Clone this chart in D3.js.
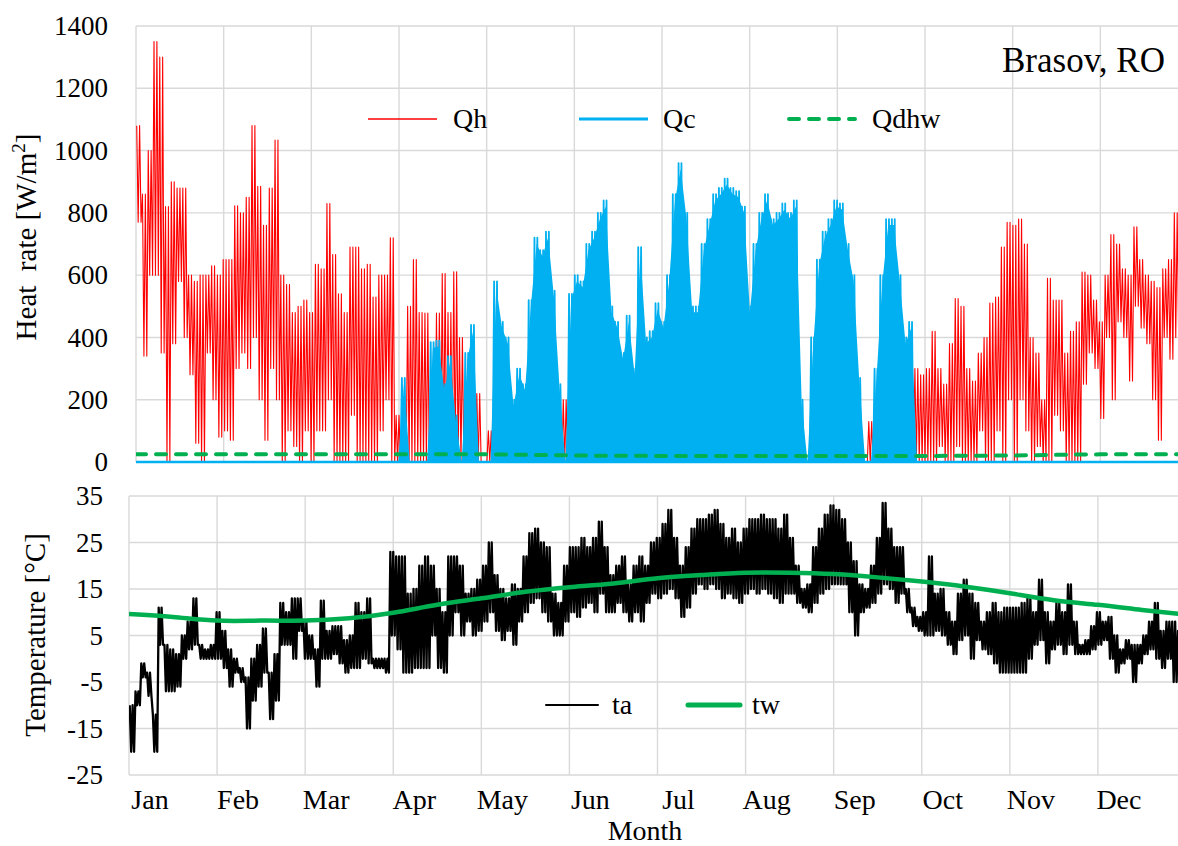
<!DOCTYPE html>
<html>
<head>
<meta charset="utf-8">
<script src="https://cdn.jsdelivr.net/npm/d3@7"></script>
<style>
  body { margin: 0; background: #fff; }
  svg { display: block; }
</style>
</head>
<body>
<svg id="chart" width="1178" height="846"></svg>
<script>
// ---- data: two-day blocks over the year (183 blocks) ----
const months = ["Jan", "Feb", "Mar", "Apr", "May", "Jun", "Jul", "Aug", "Sep", "Oct", "Nov", "Dec"];
const heatTicks = [0, 200, 400, 600, 800, 1000, 1200, 1400];
const tempTicks = [-25, -15, -5, 5, 15, 25, 35];

// heating rate Qh [W/m2]: block maximum and minimum
const qhHigh = [
  1080, 860, 1000, 1350, 1300, 820, 900, 880, 880, 600,
  580, 600, 600, 630, 600, 650, 650, 823, 800, 850,
  1080, 885, 760, 880, 1034, 600, 570, 480, 500, 520,
  480, 635, 620, 830, 666, 540, 480, 690, 690, 620,
  635, 530, 600, 600, 720, 150, 80, 500, 650, 480,
  478, 300, 478, 605, 480, 611, 400, 0, 0, 220,
  0, 100, 0, 0, 0, 0, 0, 0, 0, 0,
  0, 0, 0, 0, 200, 0, 0, 0, 0, 0,
  0, 0, 0, 0, 0, 0, 0, 0, 0, 0,
  0, 0, 0, 0, 0, 0, 0, 0, 0, 0,
  0, 0, 0, 0, 0, 0, 0, 0, 0, 0,
  0, 0, 0, 0, 0, 0, 0, 0, 0, 0,
  0, 0, 0, 0, 0, 0, 0, 130, 0, 0,
  0, 0, 0, 0, 0, 300, 280, 300, 420, 300,
  250, 380, 525, 500, 300, 260, 350, 400, 510, 530,
  690, 770, 760, 780, 700, 400, 350, 200, 590, 520,
  520, 350, 420, 450, 610, 600, 520, 450, 600, 730,
  700, 620, 600, 755, 650, 600, 580, 560, 620, 650,
  800, 700, 700
];
const qhLow = [
  770, 340, 600, 600, 350, 0, 380, 580, 400, 280,
  60, 0, 350, 200, 80, 100, 70, 300, 350, 300,
  400, 200, 70, 300, 200, 0, 100, 50, 0, 100,
  0, 100, 100, 200, 0, 0, 0, 150, 0, 0,
  0, 0, 100, 200, 0, 0, 0, 0, 0, 0,
  0, 0, 0, 0, 0, 0, 0, 0, 0, 0,
  0, 0, 0, 0, 0, 0, 0, 0, 0, 0,
  0, 0, 0, 0, 0, 0, 0, 0, 0, 0,
  0, 0, 0, 0, 0, 0, 0, 0, 0, 0,
  0, 0, 0, 0, 0, 0, 0, 0, 0, 0,
  0, 0, 0, 0, 0, 0, 0, 0, 0, 0,
  0, 0, 0, 0, 0, 0, 0, 0, 0, 0,
  0, 0, 0, 0, 0, 0, 0, 0, 0, 0,
  0, 0, 0, 0, 0, 0, 0, 0, 0, 50,
  0, 0, 50, 0, 0, 0, 100, 0, 0, 100,
  0, 200, 0, 200, 100, 0, 50, 0, 0, 150,
  100, 0, 0, 0, 250, 350, 300, 140, 400, 200,
  450, 400, 260, 500, 430, 380, 200, 70, 400, 330,
  400, 400, 400
];

// cooling rate Qc [W/m2]: block maximum (night-time values are zero)
const qcPeak = [
  0, 0, 0, 0, 0, 0, 0, 0, 0, 0,
  0, 0, 0, 0, 0, 0, 0, 0, 0, 0,
  0, 0, 0, 0, 0, 0, 0, 0, 0, 0,
  0, 0, 0, 0, 0, 0, 0, 0, 0, 0,
  0, 0, 0, 0, 0, 0, 270, 0, 0, 0,
  0, 385, 390, 250, 340, 150, 0, 350, 440, 0,
  0, 0, 580, 450, 400, 200, 300, 250, 520, 720,
  680, 740, 550, 250, 0, 540, 600, 580, 700, 740,
  800, 840, 500, 450, 350, 470, 300, 690, 400, 420,
  510, 450, 600, 860, 960, 800, 500, 500, 700, 780,
  860, 880, 910, 880, 870, 820, 500, 700, 800, 860,
  780, 800, 830, 800, 840, 200, 0, 400, 650, 740,
  780, 840, 830, 700, 600, 270, 0, 0, 300, 600,
  780, 780, 600, 400, 450, 0, 0, 0, 0, 0,
  0, 0, 0, 0, 0, 0, 0, 0, 0, 0,
  0, 0, 0, 0, 0, 0, 0, 0, 0, 0,
  0, 0, 0, 0, 0, 0, 0, 0, 0, 0,
  0, 0, 0, 0, 0, 0, 0, 0, 0, 0,
  0, 0, 0
];

// domestic hot water Qdhw [W/m2] at month boundaries
const qdhwMonthly = [25, 25, 25, 25, 24.5, 21, 19.5, 19, 19, 19.5, 21, 24.5, 25];

// ambient air temperature ta [°C]: block maximum and minimum
const taHigh = [
  -10, -7, -1, -3, -12, 11, 3, 2, 1, 5,
  8, 13, 3, 2, 3, 10, 6, 2, 0, -2,
  -4, 0, 3, 6.5, -3, 1, 12, 10, 13, 13,
  8, 5, 2, 12.5, 6, 7, 7, 4, 5, 12,
  10, 13, 0, 0, 0, 23, 22, 22, 14, 15,
  20, 22, 20, 15, 10, 22, 22, 20, 14, 15,
  17, 20, 25, 18, 15, 13, 16, 15, 22, 27,
  28, 25, 24, 14, 12, 20, 24, 24, 26, 24,
  26, 29.5, 24, 18, 20, 22, 16, 20, 22, 20,
  25, 26, 29, 32, 26, 20, 24, 28, 30, 30,
  31, 32, 29, 26, 28, 25, 28, 30, 30, 31,
  30, 30, 28, 31, 26, 20, 15, 16, 24, 28,
  31, 33, 32, 30, 25, 21, 16, 15, 20, 26,
  33.5, 28, 24, 24, 15, 11, 9, 10, 22, 14,
  15, 10, 8, 14, 17, 14, 12, 8, 10, 12,
  10, 11, 11, 11, 12, 13, 10, 17, 10, 8,
  12, 10, 16, 8, 3, 4, 7, 10, 8, 9,
  5, 2, 4, 3, 3, 5, 8, 12, 6, 8,
  8, 6, 4
];
const taLow = [
  -20, -10, -4, -8, -20, 3, -7, -7, -6, 0,
  2, 3, 0, 0, 0, 0, -2, -6, -3, -5,
  -15, -9, -6, -3, -13, -9, 3, 3, 0, 6,
  0, 0, -6, 0, 0, 1, -1, -3, -2, -2,
  0, -1, -2, -2, -3, 5, 2, -3, -3, -2,
  -2, -2, 5, -2, -3, 5, 10, 5, 8, 5,
  6, 8, 10, 6, 4, 6, 3, 8, 10, 12,
  13, 10, 8, 5, 5, 8, 10, 9, 11, 12,
  10, 14, 10, 10, 12, 10, 8, 10, 8, 12,
  14, 13, 14, 15, 13, 9, 11, 14, 16, 15,
  16, 15, 13, 14, 13, 12, 14, 15, 14, 15,
  14, 13, 12, 14, 14, 12, 11, 10, 12, 14,
  15, 16, 16, 16, 10, 5, 10, 11, 12, 14,
  16, 15, 12, 14, 10, 7, 6, 5, 5, 6,
  5, 3, 1, 4, 5, 0, 4, 2, 1, -1,
  -3, -3, -3, -3, -3, 0, 3, 4, -1, 2,
  3, 1, 3, 1, 1, 1, 2, 3, 4, 0,
  -3, -1, 0, -5, -1, 1, 2, 0, -2, 0,
  -5, -2, 0
];

// mains water temperature tw [°C], twice a month
const twHalfMonth = [9.6, 9.0, 8.2, 8.2, 8.2, 8.7, 9.9, 11.6, 13.0, 14.4, 15.4, 16.2, 17.3,
                     18.0, 18.5, 18.5, 18.2, 17.5, 16.6, 15.5, 14.1, 12.6, 11.6, 10.5, 9.5];

// ---- layout ----
const DAYS = 365, BLOCK = 2;
const FONT = '"Liberation Serif", "Tinos", "Times New Roman", serif';
const svg = d3.select("#chart");
const W = 1178, H = 846;
svg.append("rect").attr("width", W).attr("height", H).attr("fill", "#fff");

const xTop = d3.scaleLinear().domain([0, DAYS]).range([136, 1188]);
const yTop = d3.scaleLinear().domain([0, 1400]).range([462, 26]);
const xBot = d3.scaleLinear().domain([0, DAYS]).range([129, 1186]);
const yBot = d3.scaleLinear().domain([-25, 35]).range([775, 496]);
const monthStarts = d3.range(13).map(i => i * DAYS / 12);

const GRID = "#d9d9d9";

// text helper
function label(parent, x, y, size, str, anchor) {
  return parent.append("text").attr("x", x).attr("y", y)
    .attr("font-size", size).attr("text-anchor", anchor || "start")
    .style("font-family", FONT).attr("fill", "#000").text(str);
}

function drawGrid(x, y, yTicks) {
  const g = svg.append("g");
  g.selectAll("line.h").data(yTicks).join("line")
    .attr("x1", x.range()[0]).attr("x2", x.range()[1])
    .attr("y1", d => y(d)).attr("y2", d => y(d))
    .attr("stroke", GRID).attr("stroke-width", 1.4);
  g.selectAll("line.v").data(monthStarts).join("line")
    .attr("x1", d => x(d)).attr("x2", d => x(d))
    .attr("y1", y.range()[0]).attr("y2", y.range()[1])
    .attr("stroke", GRID).attr("stroke-width", 1.4);
}
drawGrid(xTop, yTop, heatTicks);
drawGrid(xBot, yBot, tempTicks);

// y axes (labels only, plain hyphen minus)
function yLabels(scale, ticks, xRight) {
  const axis = d3.axisLeft(scale).tickValues(ticks).tickSize(0).tickPadding(0)
    .tickFormat(d => String(d));
  svg.append("g").attr("transform", `translate(${xRight},0)`).call(axis)
    .call(g => g.select(".domain").remove())
    .selectAll("text").attr("font-size", 27).style("font-family", FONT).attr("fill", "#000");
}
yLabels(yTop, heatTicks, 108);
yLabels(yBot, tempTicks, 103);

// clip regions
const defs = svg.append("defs");
defs.append("clipPath").attr("id", "clipTop").append("rect")
  .attr("x", xTop.range()[0]).attr("y", 0).attr("width", xTop.range()[1] - xTop.range()[0]).attr("height", 470);
defs.append("clipPath").attr("id", "clipBot").append("rect")
  .attr("x", xBot.range()[0]).attr("y", 480).attr("width", xBot.range()[1] - xBot.range()[0]).attr("height", 300);

// helper: daily swings between each block's maximum and minimum
const dailySwing = (hi, lo) => hi.flatMap((h, k) => [
  [k * BLOCK + 0.25, h], [k * BLOCK + 0.75, lo[k]],
  [k * BLOCK + 1.25, h], [k * BLOCK + 1.75, lo[k]]
]);

const gTop = svg.append("g").attr("clip-path", "url(#clipTop)");

// Qh
gTop.append("path")
  .datum(dailySwing(qhHigh, qhLow))
  .attr("fill", "none").attr("stroke", "#ff0000").attr("stroke-width", 1.1)
  .attr("stroke-linejoin", "round")
  .attr("d", d3.line().x(d => xTop(d[0])).y(d => yTop(d[1])));

// Qc: the dense hourly trace reads as a filled profile with spiky daily peaks
const y0Top = yTop(0);
gTop.append("path")
  .datum(qcPeak.map((v, k) => [k * BLOCK + 1, v]))
  .attr("fill", "#00b0f0").attr("stroke", "none")
  .attr("d", d3.area().x(d => xTop(d[0])).y0(y0Top).y1(d => Math.min(yTop(d[1]) + 6, y0Top)));
gTop.append("path")
  .datum(dailySwing(qcPeak, qcPeak.map(() => 0)))
  .attr("fill", "none").attr("stroke", "#00b0f0").attr("stroke-width", 1.8)
  .attr("stroke-linejoin", "round")
  .attr("d", d3.line().x(d => xTop(d[0])).y(d => yTop(d[1])));
// zero level of the cooling series
gTop.append("path")
  .datum([[0, 0], [DAYS, 0]])
  .attr("stroke", "#00b0f0").attr("stroke-width", 2.5)
  .attr("d", d3.line().x(d => xTop(d[0])).y(d => yTop(d[1])));

// Qdhw
gTop.append("path")
  .datum(qdhwMonthly.map((v, i) => [monthStarts[i], v]))
  .attr("fill", "none").attr("stroke", "#00b050").attr("stroke-width", 4)
  .attr("stroke-dasharray", "10,10").attr("stroke-linecap", "round")
  .attr("d", d3.line().curve(d3.curveMonotoneX).x(d => xTop(d[0])).y(d => yTop(d[1])));

const gBot = svg.append("g").attr("clip-path", "url(#clipBot)");
// ta
gBot.append("path")
  .datum(dailySwing(taHigh, taLow))
  .attr("fill", "none").attr("stroke", "#000").attr("stroke-width", 2.3)
  .attr("stroke-linejoin", "round")
  .attr("d", d3.line().x(d => xBot(d[0])).y(d => yBot(d[1])));
// tw
gBot.append("path")
  .datum(twHalfMonth.map((v, i) => [i * DAYS / 24, v]))
  .attr("fill", "none").attr("stroke", "#00b050").attr("stroke-width", 4.5)
  .attr("d", d3.line().curve(d3.curveNatural).x(d => xBot(d[0])).y(d => yBot(d[1])));

// month labels
const gm = svg.append("g");
months.forEach((m, i) => label(gm, xBot(monthStarts[i]) + 21, 809, 28, m, "middle"));
label(svg, 645, 840, 28, "Month", "middle");

// axis titles
const t1 = svg.append("text").attr("transform", "translate(36,237) rotate(-90)")
  .attr("text-anchor", "middle").attr("font-size", 29)
  .style("font-family", FONT).style("white-space", "pre").attr("fill", "#000");
t1.append("tspan").text("Heat  rate [W/m");
t1.append("tspan").attr("dy", -11).attr("font-size", 19).text("2");
t1.append("tspan").attr("dy", 11).text("]");

svg.append("text").attr("transform", "translate(45,635) rotate(-90)")
  .attr("text-anchor", "middle").attr("font-size", 29)
  .style("font-family", FONT).attr("fill", "#000").text("Temperature [°C]");

// location label
label(svg, 1165, 72, 35, "Brasov, RO", "end");

// legends
const legTop = [
  { name: "Qh", color: "#ff0000", width: 1.5, dash: null, x1: 368, x2: 437, tx: 453 },
  { name: "Qc", color: "#00b0f0", width: 3, dash: null, x1: 579, x2: 648, tx: 663 },
  { name: "Qdhw", color: "#00b050", width: 4, dash: "10,10", x1: 789, x2: 855, tx: 872 }
];
const lt = svg.append("g");
legTop.forEach(d => {
  lt.append("line").attr("x1", d.x1).attr("x2", d.x2).attr("y1", 119).attr("y2", 119)
    .attr("stroke", d.color).attr("stroke-width", d.width)
    .attr("stroke-dasharray", d.dash).attr("stroke-linecap", d.dash ? "round" : "butt");
  label(lt, d.tx, 128, 28, d.name);
});

const legBot = [
  { name: "ta", color: "#000", width: 2, x1: 546, x2: 598, tx: 612 },
  { name: "tw", color: "#00b050", width: 5, x1: 688, x2: 740, tx: 752 }
];
const lb = svg.append("g");
legBot.forEach(d => {
  lb.append("line").attr("x1", d.x1).attr("x2", d.x2).attr("y1", 705).attr("y2", 705)
    .attr("stroke", d.color).attr("stroke-width", d.width).attr("stroke-linecap", "round");
  label(lb, d.tx, 714, 28, d.name);
});
</script>
</body>
</html>
